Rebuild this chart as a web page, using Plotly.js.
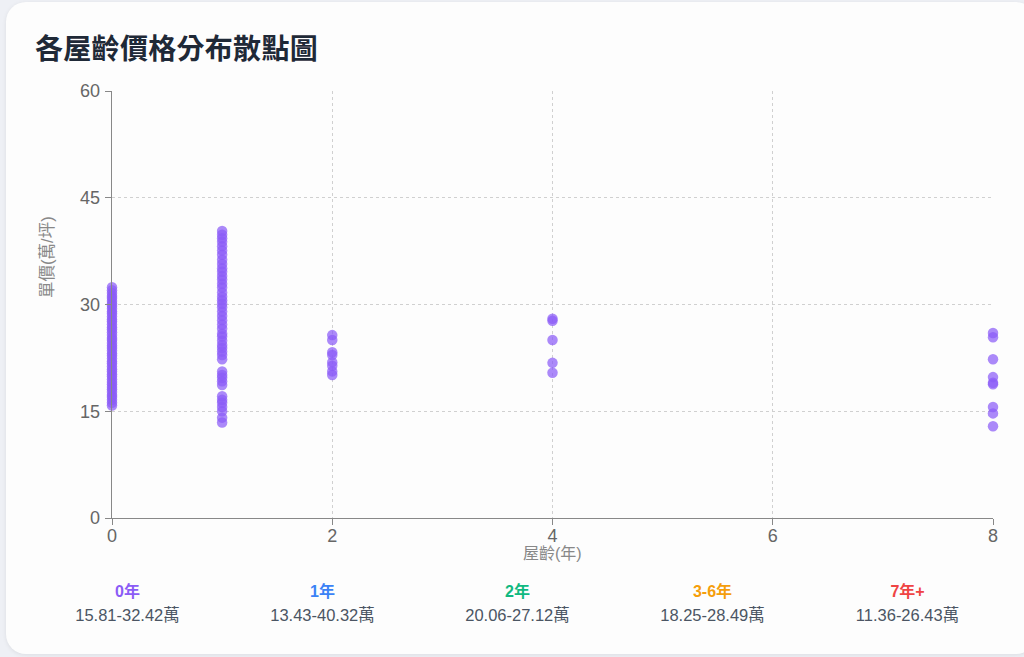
<!DOCTYPE html>
<html>
<head>
<meta charset="utf-8">
<script src="https://cdn.plot.ly/plotly-3.0.1.min.js"></script>
<style>
  html, body { margin: 0; padding: 0; width: 1024px; height: 657px; overflow: hidden;
    background: #eef0f5; font-family: "Liberation Sans", "Noto Sans CJK TC", sans-serif; }
  #card { position: absolute; left: 6px; top: 2px; width: 1030px; height: 652px;
    background: #fdfdfd; border-radius: 20px; box-shadow: 0 1px 4px rgba(0,0,0,0.08); overflow: hidden; }
  #title { position: absolute; left: 29px; top: 25px; font-size: 28px; font-weight: bold;
    color: #1f2937; font-family: "Noto Sans CJK TC", sans-serif; letter-spacing: 0.3px; }
  #plotwrap { position: absolute; left: -6px; top: -2px; width: 1024px; height: 568px; overflow: hidden; }
  #plot { width: 1024px; height: 580px; }
  .stat { position: absolute; top: 580px; width: 195px; text-align: center; }
  .stat .lab { font-size: 16px; font-weight: bold; line-height: 20px; }
  .stat .val { font-size: 16.5px; color: #4b5563; line-height: 22px; margin-top: 2px; }
</style>
</head>
<body>
<div id="card">
  <div id="title">各屋齡價格分布散點圖</div>
  <div id="plotwrap"><div id="plot"></div></div>
  <div id="stats"></div>
</div>
<script>
// ----- data -----
var age0 = [15.81,16.2,16.6,17.0,17.3,17.7,18.1,18.4,18.8,19.1,19.5,19.9,20.2,20.6,20.9,21.3,21.7,22.0,22.4,22.8,23.1,23.5,23.9,24.2,24.6,25.0,25.3,25.7,26.1,26.5,26.8,27.2,27.6,27.9,28.3,28.7,29.0,29.4,29.8,30.1,30.5,30.9,31.2,31.6,32.0,32.42];
var age1 = [13.43,14.1,15.0,15.6,16.2,16.6,17.1,18.7,19.2,19.7,20.1,20.6,22.3,22.9,23.4,23.9,24.3,24.9,25.5,25.9,26.6,27.2,27.8,28.4,29.0,29.6,30.1,30.6,31.1,31.7,32.4,32.9,33.5,34.0,34.6,35.1,35.7,36.3,37.0,37.6,38.2,38.8,39.3,39.8,40.32];
var age2 = [20.1,20.6,21.4,21.9,22.9,23.3,25.0,25.7];
var age4 = [20.4,21.8,25.0,27.7,28.0];
var age8 = [12.9,14.7,15.6,18.8,19.0,19.8,22.3,25.4,26.0];
var groupAges = [0, 1, 2, 4, 8];
var groupValues = [age0, age1, age2, age4, age8];

var statLabels = ["0年", "1年", "2年", "3-6年", "7年+"];
var statRanges = ["15.81-32.42萬", "13.43-40.32萬", "20.06-27.12萬", "18.25-28.49萬", "11.36-26.43萬"];
var statColors = ["#8b5cf6", "#3b82f6", "#10b981", "#f59e0b", "#ef4444"];

var xTitle = "屋齡(年)";
var yTitle = "單價(萬/坪)";

// ----- build points -----
var xs = [], ys = [];
groupValues.forEach(function (vals, i) {
  vals.forEach(function (v) { xs.push(groupAges[i]); ys.push(v); });
});

var trace = {
  type: "scatter", mode: "markers", x: xs, y: ys,
  marker: { color: "#8b5cf6", size: 10.5, opacity: 0.72, line: { width: 0 } },
  cliponaxis: false, hoverinfo: "x+y"
};

var fontFam = '"Liberation Sans", "Noto Sans CJK TC", sans-serif';
var axisCommon = {
  ticks: "outside", ticklen: 6, tickcolor: "#888",
  showline: true, linecolor: "#888", linewidth: 1.3,
  showgrid: true, gridcolor: "#d0d0d0", griddash: "3px,3px", gridwidth: 1,
  zeroline: false, tickfont: { size: 18, color: "#666" }
};
var layout = {
  width: 1024, height: 580,
  margin: { l: 112, r: 31, t: 91, b: 62 },
  paper_bgcolor: "rgba(0,0,0,0)", plot_bgcolor: "rgba(0,0,0,0)",
  showlegend: false,
  font: { family: fontFam, size: 16, color: "#666" },
  xaxis: Object.assign({ range: [0, 8], tickvals: [0, 2, 4, 6, 8], ticklabelstandoff: -5 }, axisCommon),
  yaxis: Object.assign({ range: [0, 60], tickvals: [0, 15, 30, 45, 60], ticklabelstandoff: 1 }, axisCommon),
  annotations: [
    { text: xTitle, xref: "paper", yref: "paper", x: 0.5, y: -0.082, xanchor: "center", yanchor: "middle",
      showarrow: false, font: { size: 16, color: "#888" } },
    { text: yTitle, xref: "paper", yref: "paper", x: -0.074, y: 0.611, xanchor: "center", yanchor: "middle",
      textangle: -90, showarrow: false, font: { size: 16.5, color: "#888" } }
  ]
};

Plotly.newPlot("plot", [trace], layout, { staticPlot: true, displayModeBar: false });

// ----- stats row -----
var statsDiv = document.getElementById("stats");
statLabels.forEach(function (lab, i) {
  var d = document.createElement("div");
  d.className = "stat";
  d.style.left = (24 + i * 195) + "px";
  d.innerHTML = '<div class="lab" style="color:' + statColors[i] + '">' + lab + '</div>' +
                '<div class="val">' + statRanges[i] + '</div>';
  statsDiv.appendChild(d);
});
</script>
</body>
</html>
